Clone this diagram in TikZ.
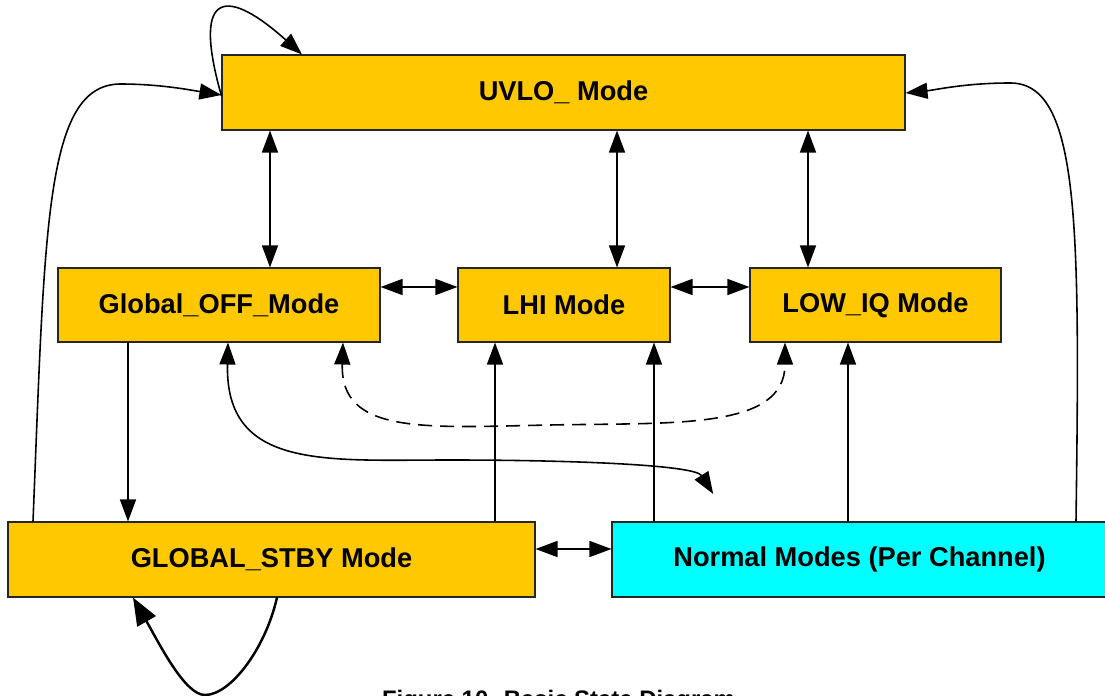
\documentclass[tikz,border=0pt]{standalone}
\usepackage{fontspec}
\setmainfont{Liberation Sans}
\usepackage{xcolor}
\usetikzlibrary{arrows.meta}
\definecolor{modeyellow}{RGB}{255,200,0}
\definecolor{modecyan}{RGB}{0,255,255}

\begin{document}
\begin{tikzpicture}[
            >={Triangle[length=0.44cm,width=0.32cm]},
            box/.style={shape=rectangle, draw=black!85, line width=0.6pt, fill=modeyellow, minimum height=1.5cm, inner sep=0pt, font=\bfseries\fontsize{15.5}{18}\selectfont},
            cbox/.style={box, fill=modecyan},
            link/.style={line width=0.9pt},
            bigtip/.style={line width=1.4pt, >={Triangle[length=0.55cm,width=0.42cm]}}]
				\useasboundingbox (0,0) rectangle (22.1,-13.92);

				\node[box, minimum width=13.66cm] (uvlo) at (11.27,-1.85) {UVLO\_ Mode};
				\node[box, minimum width=6.44cm, minimum height=1.48cm] (goff) at (4.38,-6.1) {Global\_OFF\_Mode};
				\node[box, minimum width=4.24cm, minimum height=1.48cm] (lhi) at (11.28,-6.1) {LHI Mode};
				\node[box, minimum width=5.02cm, minimum height=1.48cm] (lowiq) at (17.51,-6.1) {LOW\_IQ Mode};
				\node[box, minimum width=10.54cm] (stby) at (5.43,-11.19) {GLOBAL\_STBY Mode};
				\node[cbox, minimum width=9.9cm] (normal) at (17.19,-11.19) {Normal Modes (Per Channel)};

				\node[font=\bfseries\fontsize{13.6}{16}\selectfont, anchor=base] (cap) at (11.17,-14.14) {Figure 10. Basic State Diagram};

				% up and down to UVLO
				\draw[link,<->] (uvlo.south -| 5.4,0) -- (goff.north -| 5.4,0);
				\draw[link,<->] (uvlo.south -| 12.34,0) -- (lhi.north -| 12.34,0);
				\draw[link,<->] (uvlo.south -| 16.16,0) -- (lowiq.north -| 16.16,0);

				% middle row
				\draw[link,<->] (goff.east |- 0,-5.74) -- (lhi.west |- 0,-5.74);
				\draw[link,<->] (lhi.east |- 0,-5.74) -- (lowiq.west |- 0,-5.74);
				\draw[link,<->] (stby.east |- 0,-10.98) -- (normal.west |- 0,-10.98);

				\draw[link,->] (goff.south -| 2.56,0) -- (stby.north -| 2.56,0);
				\draw[link,->] (stby.north -| 9.9,0) -- (lhi.south -| 9.9,0);
				\draw[link,->] (normal.north -| 13.08,0) -- (lhi.south -| 13.08,0);
				\draw[link,->] (normal.north -| 16.96,0) -- (lowiq.south -| 16.96,0);

				\draw[link,<->,shorten >=0.65cm] (goff.south -| 4.56,0) .. controls (4.5,-9.4) and (6.5,-9.2) .. (9,-9.2)
				      .. controls (11.5,-9.2) and (13.9,-9.3) .. ([xshift=2.38cm]normal.north west);
				\draw[link,<->,dash pattern=on 0.28cm off 0.16cm] (goff.south -| 6.86,0) .. controls (6.8,-8.7) and (8.5,-8.55) .. (11,-8.5)
				      .. controls (13.5,-8.45) and (15.7,-8.6) .. (lowiq.south -| 15.7,0);

				% back to UVLO
				\draw[link,->] (stby.north -| 0.66,0) .. controls (0.9,-4.5) and (0.9,-1.7) .. (2.4,-1.68)
				      .. controls (3.2,-1.68) and (3.8,-1.8) .. (uvlo.west |- 0,-1.9);
				\draw[link,->] (normal.north -| 21.52,0) .. controls (21.6,-4.5) and (21.6,-1.65) .. (20.2,-1.66)
				      .. controls (19.3,-1.66) and (18.7,-1.8) .. (uvlo.east |- 0,-1.86);

				% self loops
				\draw[link,->] (uvlo.west |- 0,-1.92) .. controls (3.8,0.3) and (4.6,0.2) .. (uvlo.north -| 6.04,0);
				\draw[bigtip,->] (stby.south -| 5.54,0) .. controls (5.3,-13.0) and (4.6,-13.9) .. (4.1,-13.9)
				      .. controls (3.7,-13.9) and (3.2,-12.9) .. (stby.south -| 2.66,0);
 		\end{tikzpicture}
\end{document}
